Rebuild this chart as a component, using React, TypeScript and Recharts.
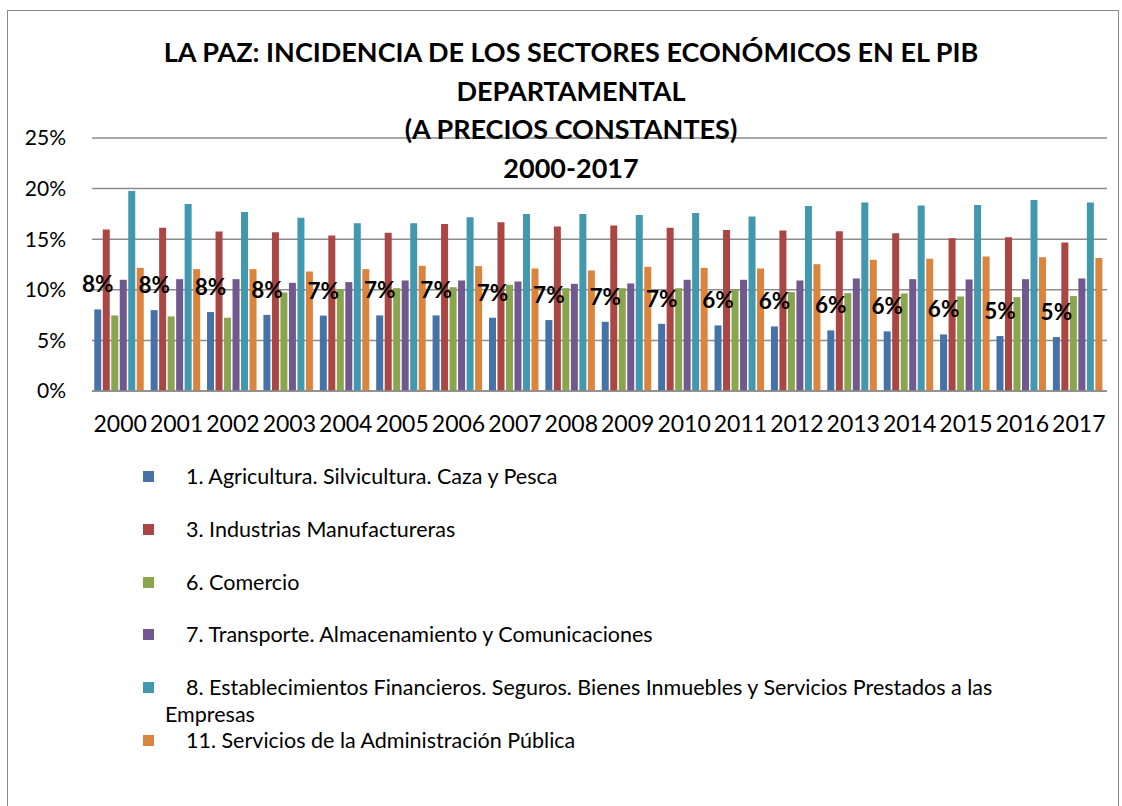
import { BarChart, Bar, XAxis, YAxis, CartesianGrid, Legend, LabelList } from 'recharts'

if (typeof document !== 'undefined') document.body.style.margin = '0'

const titleLines = [
  'LA PAZ: INCIDENCIA DE LOS SECTORES ECONÓMICOS EN EL PIB',
  'DEPARTAMENTAL',
  '(A PRECIOS CONSTANTES)',
  '2000-2017',
]

const years = ['2000', '2001', '2002', '2003', '2004', '2005', '2006', '2007', '2008',
  '2009', '2010', '2011', '2012', '2013', '2014', '2015', '2016', '2017']

// shares of departmental GDP, in %
const agricultura = [8.06, 7.99, 7.8, 7.52, 7.45, 7.47, 7.47, 7.24, 7.01, 6.84, 6.64, 6.48, 6.38, 5.99, 5.89, 5.59, 5.43, 5.33]
const industrias = [15.95, 16.12, 15.76, 15.69, 15.36, 15.63, 16.51, 16.68, 16.25, 16.35, 16.12, 15.92, 15.86, 15.79, 15.59, 15.1, 15.2, 14.67]
const comercio = [7.47, 7.37, 7.24, 9.74, 10.07, 10.16, 10.26, 10.49, 10.16, 10.16, 10.16, 10.03, 9.77, 9.67, 9.64, 9.34, 9.28, 9.38]
const transporte = [10.99, 11.05, 11.05, 10.69, 10.76, 10.92, 10.92, 10.82, 10.59, 10.63, 10.99, 10.99, 10.92, 11.12, 11.05, 11.02, 11.05, 11.12]
const financieros = [19.77, 18.49, 17.7, 17.11, 16.58, 16.58, 17.17, 17.5, 17.5, 17.4, 17.6, 17.24, 18.29, 18.62, 18.32, 18.39, 18.88, 18.62]
const administracion = [12.17, 12.04, 12.04, 11.81, 12.04, 12.37, 12.34, 12.11, 11.91, 12.27, 12.17, 12.11, 12.53, 12.96, 13.06, 13.29, 13.22, 13.13]

const yTicks = [0, 5, 10, 15, 20, 25]

const series = [
  { key: 'agricultura', name: '1. Agricultura. Silvicultura. Caza y Pesca', color: '#4572A7' },
  { key: 'industrias', name: '3. Industrias Manufactureras', color: '#AA4643' },
  { key: 'comercio', name: '6. Comercio', color: '#89A54E' },
  { key: 'transporte', name: '7. Transporte. Almacenamiento y Comunicaciones', color: '#71588F' },
  { key: 'financieros', name: '8. Establecimientos Financieros. Seguros. Bienes Inmuebles y Servicios Prestados a las Empresas', color: '#4198AF' },
  { key: 'administracion', name: '11. Servicios de la Administración Pública', color: '#DB843D' },
]

const data = years.map((year, i) => ({
  year,
  agricultura: agricultura[i],
  industrias: industrias[i],
  comercio: comercio[i],
  transporte: transporte[i],
  financieros: financieros[i],
  administracion: administracion[i],
}))

const FONT = 'Lato, "Open Sans", sans-serif'

function LegendContent() {
  return (
    <div style={{ position: 'relative', width: 1122, height: 300, fontFamily: FONT, fontSize: 21.5, color: '#000' }}>
      {series.map((s, i) => (
        <div
          key={s.key}
          style={{ position: 'absolute', left: 165, top: i * 52.8, width: 880, lineHeight: '27px', textIndent: 21, textAlign: 'left' }}
        >
          <span style={{ position: 'absolute', left: -22, top: 8, width: 11, height: 11, background: s.color }} />
          {s.name}
        </div>
      ))}
    </div>
  )
}

export default function App() {
  return (
    <div style={{ position: 'relative', width: 1122, height: 806, overflow: 'hidden', background: '#fff' }}>
      <div style={{ position: 'absolute', left: 7, top: 10, width: 1110, height: 830, border: '1px solid #8a8a8a' }} />
      <BarChart
        width={1122}
        height={806}
        data={data}
        margin={{ top: 138, right: 15, bottom: 385, left: 0 }}
        barCategoryGap="4%"
        barGap={1.5}
      >
        <CartesianGrid vertical={false} stroke="#8c8c8c" strokeWidth={1.5} />
        <XAxis
          dataKey="year"
          interval={0}
          height={30}
          tickSize={0}
          tickMargin={25}
          tickLine={false}
          axisLine={{ stroke: '#8c8c8c', strokeWidth: 1.5 }}
          tick={{ fontSize: 23, fill: '#000', fontFamily: FONT }}
        />
        <YAxis
          domain={[0, 25]}
          ticks={yTicks}
          width={92}
          tickSize={0}
          tickMargin={26}
          tickLine={false}
          axisLine={false}
          tickFormatter={(v) => `${v}%`}
          tick={{ fontSize: 21, fill: '#000', fontFamily: FONT }}
        />
        <Legend
          layout="vertical"
          align="center"
          verticalAlign="middle"
          content={<LegendContent />}
          wrapperStyle={{ left: 0, top: 463, width: 1122 }}
        />
        {series.map((s) => (
          <Bar key={s.key} dataKey={s.key} name={s.name} fill={s.color} isAnimationActive={false}>
            {s.key === 'agricultura' && (
              <LabelList
                dataKey="agricultura"
                position="top"
                offset={17}
                formatter={(v: any) => `${Math.round(Number(v))}%`}
                style={{ fontSize: 22.5, fontWeight: 700, fill: '#000', fontFamily: FONT }}
              />
            )}
          </Bar>
        ))}
      </BarChart>
      <div
        style={{
          position: 'absolute', left: 10, top: 33, width: 1122, textAlign: 'center',
          fontFamily: FONT, fontWeight: 700, fontSize: 27, lineHeight: '38.7px', color: '#000',
        }}
      >
        {titleLines.map((t) => (
          <div key={t}>{t}</div>
        ))}
      </div>
    </div>
  )
}
